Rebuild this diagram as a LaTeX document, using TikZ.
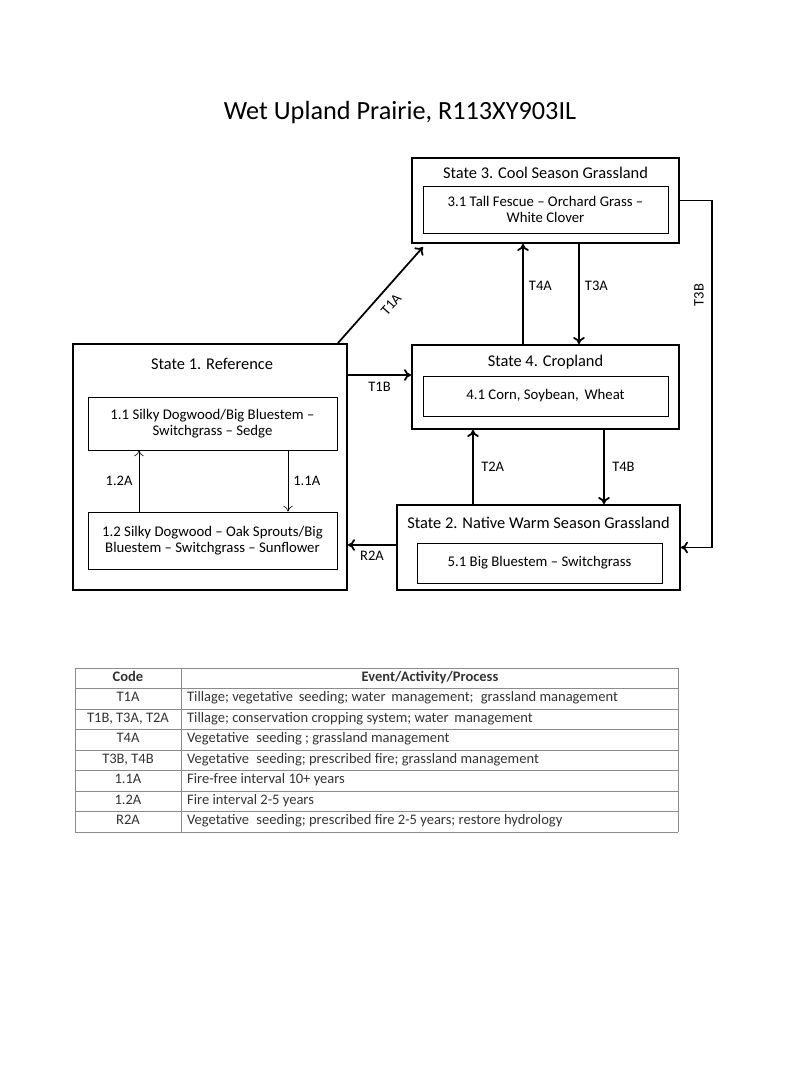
\documentclass[tikz,border=0pt]{standalone}
\usepackage{fontspec}
\setmainfont{Carlito}
\usetikzlibrary{arrows.meta}
\begin{document}
\begin{tikzpicture}[x=0.03cm, y=-0.03cm,
	statebox/.style={draw=black, line width=1.7pt, inner sep=0pt},
	phasebox/.style={draw=black, line width=0.6pt, inner sep=0pt, align=center, font=\fontsize{12.6}{14}\selectfont},
	statetitle/.style={font=\fontsize{14}{16}\selectfont},
	trans/.style={-{To[length=6pt, width=10pt]}, line width=1.5pt},
	phase/.style={-{To[length=5pt, width=8pt]}, line width=0.5pt},
	lbl/.style={font=\fontsize{12.4}{14}\selectfont},
	grid/.style={draw=black!45, line width=0.6pt},
	cell/.style={font=\fontsize{12.4}{14}\selectfont, text=black!80, text height=1.55ex, text depth=0.45ex}]
	\useasboundingbox (0,0) rectangle (800,1067);

	\node[font=\fontsize{22.4}{26}\selectfont] (title) at (400,113) {Wet Upland Prairie, R113XY903IL};

	% states
	\node[statebox, minimum width=8.01cm, minimum height=2.55cm]  (s3) at (545.5,200.5) {};
	\node[statebox, minimum width=8.22cm, minimum height=7.38cm]  (s1) at (210,467) {};
	\node[statebox, minimum width=8.01cm, minimum height=2.52cm]  (s4) at (545.5,387) {};
	\node[statebox, minimum width=8.49cm, minimum height=2.55cm]  (s2) at (538.5,547.5) {};

	\node[statetitle] (t3) at (545.5,173) {State 3. Cool Season Grassland};
	\node[statetitle] (t1) at (212,364) {State 1. Reference};
	\node[statetitle] (t4) at (545.5,362) {State 4. Cropland};
	\node[statetitle] (t2) at (538.5,523) {State 2. Native Warm Season Grassland};

	% phases
	\node[phasebox, minimum width=7.35cm, minimum height=1.41cm] (p31) at (545.5,209.5) {3.1 Tall Fescue -- Orchard Grass --\\White Clover};
	\node[phasebox, minimum width=7.35cm, minimum height=1.20cm] (p41) at (545.5,396) {4.1 Corn, Soybean,\, Wheat};
	\node[phasebox, minimum width=7.35cm, minimum height=1.20cm] (p51) at (539.5,563) {5.1 Big Bluestem -- Switchgrass};
	\node[phasebox, minimum width=7.47cm, minimum height=1.59cm] (p11) at (212.5,423.5) {1.1 Silky Dogwood/Big Bluestem --\\Switchgrass -- Sedge};
	\node[phasebox, minimum width=7.47cm, minimum height=1.71cm] (p12) at (212.5,540.5) {1.2 Silky Dogwood -- Oak Sprouts/Big\\Bluestem -- Switchgrass -- Sunflower};

	% transitions
	\coordinate (a4) at ([xshift=-0.675cm]s4.north);
	\coordinate (a3) at ([xshift=1.005cm]s4.north);
	\coordinate (a2) at ([xshift=-2.175cm]s4.south);
	\coordinate (b4) at ([xshift=1.755cm]s4.south);
	\coordinate (c3) at ([xshift=0.96cm]s3.east);
	\coordinate (t1b) at ([yshift=-0.96cm]s1.north east);
	\coordinate (r2a) at ([yshift=0.075cm]s2.west);

	\draw[trans] ([xshift=-0.3cm]s1.north east) -- ([xshift=0.36cm, yshift=-0.09cm]s3.south west)
		node[lbl, midway, sloped, below=4pt] {T1A};
	\draw[trans] (t1b) -- (t1b -| s4.west) node[lbl, midway, below=2pt] {T1B};
	\draw[trans] (a4) -- (a4 |- s3.south) node[lbl, pos=0.58, right=1pt] {T4A};
	\draw[trans] (a3 |- s3.south) -- (a3) node[lbl, pos=0.42, right=1pt] {T3A};
	\draw[trans] (a2 |- s2.north) -- (a2) node[lbl, midway, right=3pt] {T2A};
	\draw[trans] (b4) -- (b4 |- s2.north) node[lbl, midway, right=3pt] {T4B};
	\draw[trans] (r2a) -- (r2a -| s1.east) node[lbl, midway, below=1pt] {R2A};
	\draw[trans] (s3.east) -- (c3) -- (c3 |- s2.east) -- (s2.east);
	\node[lbl, rotate=90] (t3b) at (699,295) {T3B};

	\draw[phase] ([xshift=-2.205cm]p12.north) -- ([xshift=-2.205cm]p11.south) node[lbl, midway, left=2pt] {1.2A};
	\draw[phase] ([xshift=2.265cm]p11.south) -- ([xshift=2.265cm]p12.north) node[lbl, midway, right=1pt] {1.1A};

	% table
	\foreach \k in {0,...,8}
		\draw[grid] (75,668+20.5*\k) -- (678,668+20.5*\k);
	\draw[grid] (75,668) -- (75,832);
	\draw[grid] (181,668) -- (181,832);
	\draw[grid] (678,668) -- (678,832);
	\node[cell, font=\fontsize{12.4}{14}\selectfont\bfseries] (hcode) at (128,678) {Code};
	\node[cell, font=\fontsize{12.4}{14}\selectfont\bfseries] (hevent) at (430,678) {Event/Activity/Process};
	\foreach \code/\txt [count=\i] in {
		T1A/{Tillage; vegetative\, seeding; water\, management;\; grassland management},
		{T1B, T3A, T2A}/{Tillage; conservation cropping system; water\, management},
		T4A/{Vegetative\; seeding ; grassland management},
		{T3B, T4B}/{Vegetative\; seeding; prescribed fire; grassland management},
		1.1A/{Fire-free interval 10+ years},
		1.2A/{Fire interval 2-5 years},
		R2A/{Vegetative\; seeding; prescribed fire 2-5 years; restore hydrology}} {
		\node[cell] (code\i) at (128,678+20.5*\i) {\code};
		\node[cell, anchor=west] (txt\i) at (183,678+20.5*\i) {\txt};
	}
\end{tikzpicture}
\end{document}
